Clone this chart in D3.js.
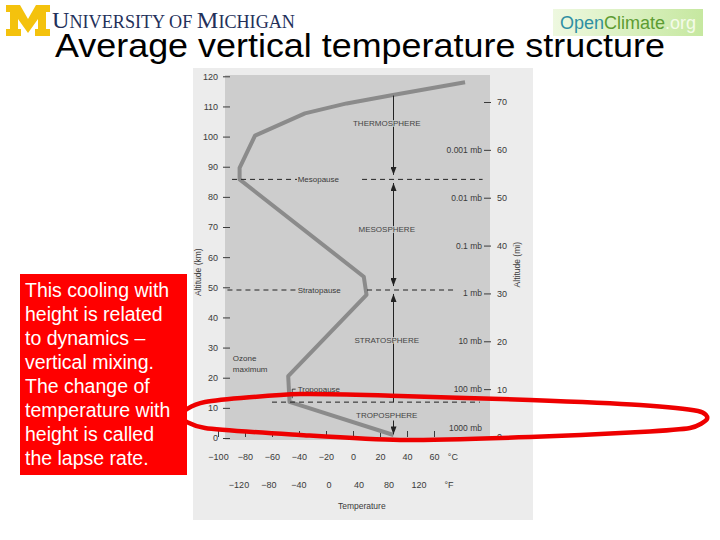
<!DOCTYPE html>
<html><head><meta charset="utf-8">
<script src="https://cdn.jsdelivr.net/npm/d3@7/dist/d3.min.js"></script>
<style>body{margin:0;background:#fff}svg{display:block}</style>
</head><body>
<svg id="c" width="720" height="540"></svg>
<script>
// ---------- data ----------
const altKmTicks = [0,10,20,30,40,50,60,70,80,90,100,110,120];
const altMiTicks = [0,10,20,30,40,50,60,70];
const pressureLabels = ["1000 mb","100 mb","10 mb","1 mb","0.1 mb","0.01 mb","0.001 mb",""];
const tempCTicks = [-100,-80,-60,-40,-20,0,20,40,60];
const tempFTicks = [-120,-80,-40,0,40,80,120];
const profileTempC = [30,-47,-48,10,8,-84,-84,-72.6,-35.6,-4.7,29.6,83];
const profileAltKm = [1,12,20.5,47.5,53.5,85.8,89.6,100.3,107.7,111,113.8,118];
const layerNames = ["TROPOSPHERE","STRATOSPHERE","MESOSPHERE","THERMOSPHERE"];
const layerAltKm = [6.5,31.5,68.5,103.5];
const pauseNames = ["Tropopause","Stratopause","Mesopause"];
const pauseAltKm = [11.9,49.1,85.8];
const noteLines = ["This cooling with","height is related","to dynamics \u2013","vertical mixing.","The change of","temperature with","height is called","the lapse rate."];

// ---------- scales ----------
const svg = d3.select("#c");
const x = d3.scaleLinear().domain([-100,60]).range([218,434]);
const y = d3.scaleLinear().domain([0,120]).range([438,76.3]);
const yMi = d3.scaleLinear().domain([0,70]).range([437,102]);
const fToC = f => (f-32)/1.8;
const font = "'Liberation Sans', Arial, sans-serif";
const ink = "#3a3a3a";

// ---------- header ----------
svg.append("rect").attr("width",720).attr("height",540).attr("fill","#fff");
const mPts = [[6,5],[20,5],[28,19],[36,5],[50,5],[50,12],[46,12],[46,29],[50,29],[50,36],[35,36],[35,29],[38,29],[38,19],[28,33],[18,19],[18,29],[21,29],[21,36],[6,36],[6,29],[10,29],[10,12],[6,12]];
svg.append("path").attr("d","M"+mPts.join("L")+"Z").attr("fill","#f4c20d");

// University wordmark: pieces placed one after another, then scaled to width
const uniParts = [["U",24],["NIVERSITY OF ",18],["M",24],["ICHIGAN",18]];
const uniG = svg.append("g");
let cx = 0;
uniParts.forEach(p=>{
  const t = uniG.append("text").attr("x",cx).attr("y",0).attr("fill","#23305a")
    .attr("font-family","'Liberation Serif','Times New Roman',serif").attr("font-size",p[1])
    .attr("xml:space","preserve").style("white-space","pre").text(p[0]);
  cx += t.node().getComputedTextLength();
});
uniG.attr("transform",`translate(52,28) scale(${243/cx},1)`);

const defs = svg.append("defs");
const lg = defs.append("linearGradient").attr("id","oc").attr("x1",0).attr("x2",1);
lg.append("stop").attr("offset",0).attr("stop-color","#eef8e0");
lg.append("stop").attr("offset",1).attr("stop-color","#c6e8a0");
svg.append("rect").attr("x",553).attr("y",9).attr("width",150).attr("height",27).attr("fill","url(#oc)");
const ocParts = [["Open","#2f8fa3"],["Climate","#5c9c32"],[".org","#f4fbe9"]];
let ox = 560;
ocParts.forEach(p=>{
  const t = svg.append("text").attr("x",ox).attr("y",29).attr("font-family",font).attr("font-size",18)
    .attr("fill",p[1]).text(p[0]);
  ox += t.node().getComputedTextLength();
});

svg.append("text").attr("x",360).attr("y",57).attr("text-anchor","middle")
  .attr("font-family",font).attr("font-size",34).attr("fill","#000")
  .attr("textLength",610).attr("lengthAdjust","spacingAndGlyphs")
  .text("Average vertical temperature structure");

// ---------- scanned figure background ----------
svg.append("rect").attr("x",193).attr("y",68).attr("width",340).attr("height",452).attr("fill","#ececec");
svg.append("rect").attr("x",225).attr("y",75).attr("width",265).attr("height",365).attr("fill","#cdcdcd");

// ---------- axes ----------
const axL = svg.append("g").attr("transform","translate(230,0)")
  .call(d3.axisLeft(y).tickValues(altKmTicks).tickSize(7).tickPadding(5));
const axR = svg.append("g").attr("transform","translate(484,0)")
  .call(d3.axisRight(yMi).tickValues(altMiTicks).tickSize(7).tickPadding(6));
const axB = svg.append("g").attr("transform","translate(0,437)")
  .call(d3.axisBottom(x).tickValues(tempCTicks).tickSize(-6).tickPadding(17).tickFormat(d => d<0 ? "\u2212"+(-d) : d));
[axL,axR,axB].forEach(g=>{
  g.select(".domain").remove();
  g.selectAll("line").attr("stroke",ink);
  g.selectAll("text").attr("fill",ink).attr("font-family",font).attr("font-size",9);
});
axR.selectAll(".tick").filter(d=>d===0).select("line").remove();
axB.append("text").attr("x",x(74)).attr("y",17).attr("dy","0.71em").attr("text-anchor","middle")
  .attr("fill",ink).attr("font-family",font).attr("font-size",9).text("\u00b0C");

const fRow = svg.append("g").attr("font-family",font).attr("font-size",9).attr("fill",ink).attr("text-anchor","middle");
fRow.selectAll("text").data(tempFTicks).join("text")
  .attr("x",d=>x(fToC(d))).attr("y",488).text(d => d<0 ? "\u2212"+(-d) : d);
fRow.append("text").attr("x",x(fToC(160))).attr("y",488).text("\u00b0F");
svg.append("text").attr("x",x(6.5)).attr("y",509).attr("text-anchor","middle")
  .attr("font-family",font).attr("font-size",8.5).attr("fill",ink).text("Temperature");

svg.append("text").attr("transform",`translate(201,${y(55)}) rotate(-90)`).attr("text-anchor","middle")
  .attr("font-family",font).attr("font-size",8.5).attr("fill",ink).text("Altitude (km)");
svg.append("text").attr("transform",`translate(520,${yMi(36)}) rotate(-90)`).attr("text-anchor","middle")
  .attr("font-family",font).attr("font-size",8.5).attr("fill",ink).text("Altitude (mi)");

// pressure labels
svg.append("g").attr("font-family",font).attr("font-size",8.5).attr("fill",ink).attr("text-anchor","end")
  .selectAll("text").data(pressureLabels).join("text")
  .attr("x",482).attr("y",(d,i)=>yMi(altMiTicks[i]) + (i===0 ? -6 : 3)).text(d=>d);

// ---------- profile ----------
const prof = profileTempC.map((t,i)=>[t,profileAltKm[i]]);
svg.append("path").datum(prof)
  .attr("d",d3.line().x(d=>x(d[0])).y(d=>y(d[1])))
  .attr("fill","none").attr("stroke","#8b8b8b").attr("stroke-width",4).attr("stroke-linejoin","round");

// ---------- pause dashed lines ----------
const pauseSegs = [
  [[-60,94]],
  [[-93,-41.5],[10.4,77]],
  [[-89.6,-41.5],[6.7,96]]
];
pauseSegs.forEach((segs,i)=>segs.forEach(s=>{
  svg.append("line").attr("x1",x(s[0])).attr("x2",x(s[1])).attr("y1",y(pauseAltKm[i])).attr("y2",y(pauseAltKm[i]))
    .attr("stroke","#222").attr("stroke-width",1).attr("stroke-dasharray","5,4");
}));
svg.append("text").attr("x",x(-41)).attr("y",y(pauseAltKm[2])+3).attr("font-family",font).attr("font-size",8).attr("fill",ink).text(pauseNames[2]);
svg.append("text").attr("x",x(-41)).attr("y",y(pauseAltKm[1])+3).attr("font-family",font).attr("font-size",8).attr("fill",ink).text(pauseNames[1]);
svg.append("text").attr("x",x(-41)).attr("y",y(15.3)).attr("font-family",font).attr("font-size",8).attr("fill",ink).text(pauseNames[0]);
svg.append("path").attr("d",`M${x(-45)},${y(13.2)}V${y(16.2)}H${x(-42.5)}`).attr("fill","none").attr("stroke","#222").attr("stroke-width",0.8);
svg.append("text").attr("x",x(-89)).attr("y",y(25.5)).attr("font-family",font).attr("font-size",8).attr("fill",ink).text("Ozone");
svg.append("text").attr("x",x(-89)).attr("y",y(21.9)).attr("font-family",font).attr("font-size",8).attr("fill",ink).text("maximum");

// ---------- vertical arrows ----------
defs.append("marker").attr("id","ah").attr("viewBox","0 0 10 10").attr("refX",10).attr("refY",5)
  .attr("markerUnits","userSpaceOnUse").attr("markerWidth",8).attr("markerHeight",6)
  .attr("orient","auto-start-reverse").attr("preserveAspectRatio","none")
  .append("path").attr("d","M0,0L10,5L0,10Z").attr("fill","#222");
const arrowT = 30;
const arrowSegs = [[113.6,87.3,false,true],[84.6,50.4,true,true],[47.8,11.9,true,false],[5.8,1.2,false,true]];
arrowSegs.forEach(s=>{
  const l = svg.append("line").attr("x1",x(arrowT)).attr("x2",x(arrowT)).attr("y1",y(s[0])).attr("y2",y(s[1]))
    .attr("stroke","#222").attr("stroke-width",1);
  if (s[2]) l.attr("marker-start","url(#ah)");
  if (s[3]) l.attr("marker-end","url(#ah)");
});

// layer names
svg.append("g").attr("font-family",font).attr("font-size",8).attr("fill","#444").attr("text-anchor","middle")
  .selectAll("text").data(layerNames).join("text")
  .attr("x",x(25)).attr("y",(d,i)=>y(layerAltKm[i])).attr("paint-order","stroke")
  .attr("stroke","#cdcdcd").attr("stroke-width",1.5).text(d=>d);

// ---------- red annotation ellipse ----------
const ell = [[180,416],[205,402],[300,394],[400,396],[530,400],[640,405],[698,411],[707,419],[690,428],[640,432],[530,437],[400,440],[300,435],[205,428]];
svg.append("path").attr("d",d3.line().curve(d3.curveCardinalClosed.tension(0.3))(ell))
  .attr("fill","none").attr("stroke","#ee0000").attr("stroke-width",4.5);

// ---------- red note box ----------
svg.append("rect").attr("x",20).attr("y",274).attr("width",167).attr("height",201).attr("fill","#ff0000");
svg.append("g").attr("font-family",font).attr("font-size",19.5).attr("fill","#fff")
  .selectAll("text").data(noteLines).join("text")
  .attr("x",25).attr("y",(d,i)=>297+i*24).text(d=>d);
</script>
</body></html>
